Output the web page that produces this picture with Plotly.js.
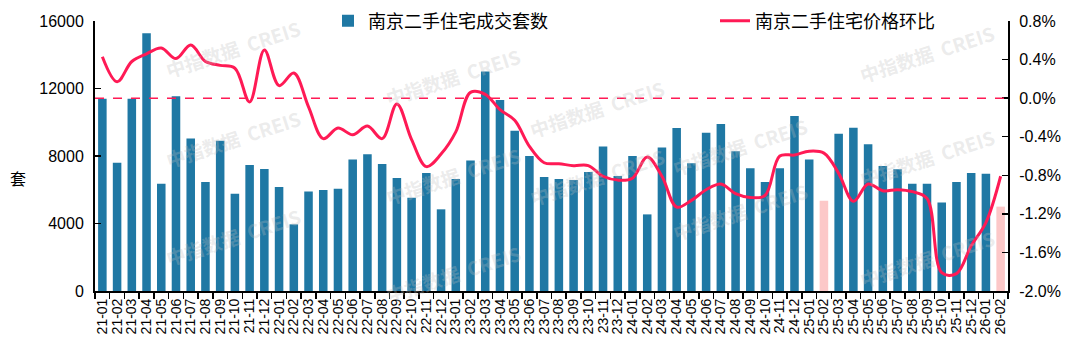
<!DOCTYPE html>
<html>
<head>
<meta charset="utf-8">
<script src="https://cdn.plot.ly/plotly-3.0.1.min.js"></script>
<style>html,body{margin:0;padding:0;background:#fff;}#chart{width:1080px;height:361px;}</style>
</head>
<body>
<div id="chart"></div>
<script>
const months = ['21-01','21-02','21-03','21-04','21-05','21-06','21-07','21-08','21-09','21-10','21-11','21-12',
'22-01','22-02','22-03','22-04','22-05','22-06','22-07','22-08','22-09','22-10','22-11','22-12',
'23-01','23-02','23-03','23-04','23-05','23-06','23-07','23-08','23-09','23-10','23-11','23-12',
'24-01','24-02','24-03','24-04','24-05','24-06','24-07','24-08','24-09','24-10','24-11','24-12',
'25-01','25-02','25-03','25-04','25-05','25-06','25-07','25-08','25-09','25-10','25-11','25-12',
'26-01','26-02'];
const deals = [11400,7600,11400,15270,6350,11540,9030,6460,8910,5770,7470,7230,
6160,3950,5890,5990,6060,7800,8100,7530,6700,5530,6990,4840,
6640,7740,13000,11320,9500,8000,6760,6640,6580,7050,8570,6820,
8000,4540,8510,9660,7570,9380,9900,8280,7270,6460,7270,10370,
7800,5350,9320,9680,8690,7410,7210,6360,6360,5250,6460,6990,
6950,5000];
const priceMoM = [0.43,0.17,0.38,0.46,0.52,0.41,0.55,0.38,0.34,0.31,-0.04,0.50,
0.13,0.26,-0.09,-0.42,-0.31,-0.38,-0.29,-0.42,-0.06,-0.43,-0.71,-0.58,
-0.35,0.06,0.04,-0.12,-0.23,-0.50,-0.67,-0.68,-0.70,-0.70,-0.81,-0.85,
-0.83,-0.61,-0.81,-1.13,-1.06,-0.95,-0.89,-0.99,-1.03,-1.01,-0.60,-0.59,
-0.55,-0.57,-0.78,-1.07,-0.89,-0.96,-0.95,-0.97,-1.04,-1.81,-1.82,-1.53,
-1.29,-0.81];
const highlightMonths = ['25-02','26-02'];
const leftTicks = [0,4000,8000,12000,16000];
const rightTicks = [-2.0,-1.6,-1.2,-0.8,-0.4,0.0,0.4,0.8];
const barName = '南京二手住宅成交套数';
const lineName = '南京二手住宅价格环比';

const BLUE = '#1f78a4', PINK = '#fcc8c8', RED = '#ff1a55';
const barColors = months.map(m => highlightMonths.includes(m) ? PINK : BLUE);

const traces = [
  {type:'bar', x:months, y:deals, name:barName, marker:{color:barColors}, yaxis:'y', legend:'legend'},
  {type:'scatter', mode:'lines', x:months, y:priceMoM, name:lineName, yaxis:'y2', legend:'legend2',
   line:{color:RED, width:3, shape:'spline', smoothing:1}}
];

const wmText = '中指数据  CREIS';
const wmPos = [[160,12],[380,40],[597,72],[813,110],[1000,17],
               [160,138],[380,175],[597,213],[813,248],[1000,157],
               [160,273],[380,310],[1000,295]];
const annotations = wmPos.map(p => ({
  xref:'paper', yref:'paper', x:(p[0]-95)/913, y:(291-p[1])/270, text:wmText, showarrow:false,
  textangle:-18, font:{family:'Noto Sans CJK SC', size:19, color:'rgba(190,190,190,0.3)', weight:700}
}));
annotations.push({xref:'paper', yref:'paper', x:(18-95)/913, y:(291-178)/270, xanchor:'center', yanchor:'middle',
  text:'套', showarrow:false, font:{family:'Noto Sans CJK SC', size:16, color:'#000'}});

const legFont = {family:'Noto Sans CJK SC', size:18, color:'#000'};
const layout = {
  width:1080, height:361,
  margin:{l:95, r:72, t:21, b:70, pad:0, autoexpand:false},
  paper_bgcolor:'#fff', plot_bgcolor:'#fff',
  font:{family:'Liberation Sans, Arial, sans-serif', color:'#000'},
  bargap:0.42,
  showlegend:true,
  legend:{orientation:'h', x:(328-95)/913, xanchor:'left', y:1.0, yanchor:'middle', bgcolor:'rgba(0,0,0,0)', font:legFont},
  legend2:{orientation:'h', x:(715-95)/913, xanchor:'left', y:1.0, yanchor:'middle', bgcolor:'rgba(0,0,0,0)', font:legFont},
  xaxis:{type:'category', showline:true, linecolor:'#000', linewidth:2, ticks:'outside', ticklen:6, tickwidth:1.5,
    tickcolor:'#000', tickson:'boundaries', dtick:1, tickangle:-90, tickfont:{size:14, family:'Liberation Sans, Arial'},
    showgrid:false, zeroline:false, automargin:false},
  yaxis:{range:[0,16000], tickvals:leftTicks, ticktext:leftTicks.map(String), showline:true, linecolor:'#000', linewidth:2, ticks:'inside',
    ticklen:6, tickwidth:1.5, tickcolor:'#000', showgrid:false, zeroline:false, tickfont:{size:16}, ticklabelstandoff:6, automargin:false},
  yaxis2:{overlaying:'y', side:'right', range:[-2.0,0.8], tickvals:rightTicks, ticktext:rightTicks.map(v => v.toFixed(1) + '%'),
    showline:true, linecolor:'#000', linewidth:2, ticks:'inside', ticklen:6, tickwidth:1.5, tickcolor:'#000',
    showgrid:false, zeroline:false, tickfont:{size:16}, ticklabelstandoff:6, automargin:false},
  shapes:[{type:'line', xref:'paper', x0:0, x1:1, yref:'y2', y0:0, y1:0, line:{color:RED, width:1.5, dash:'dash'}}],
  annotations:annotations
};

Plotly.newPlot('chart', traces, layout, {staticPlot:true});
</script>
</body>
</html>
